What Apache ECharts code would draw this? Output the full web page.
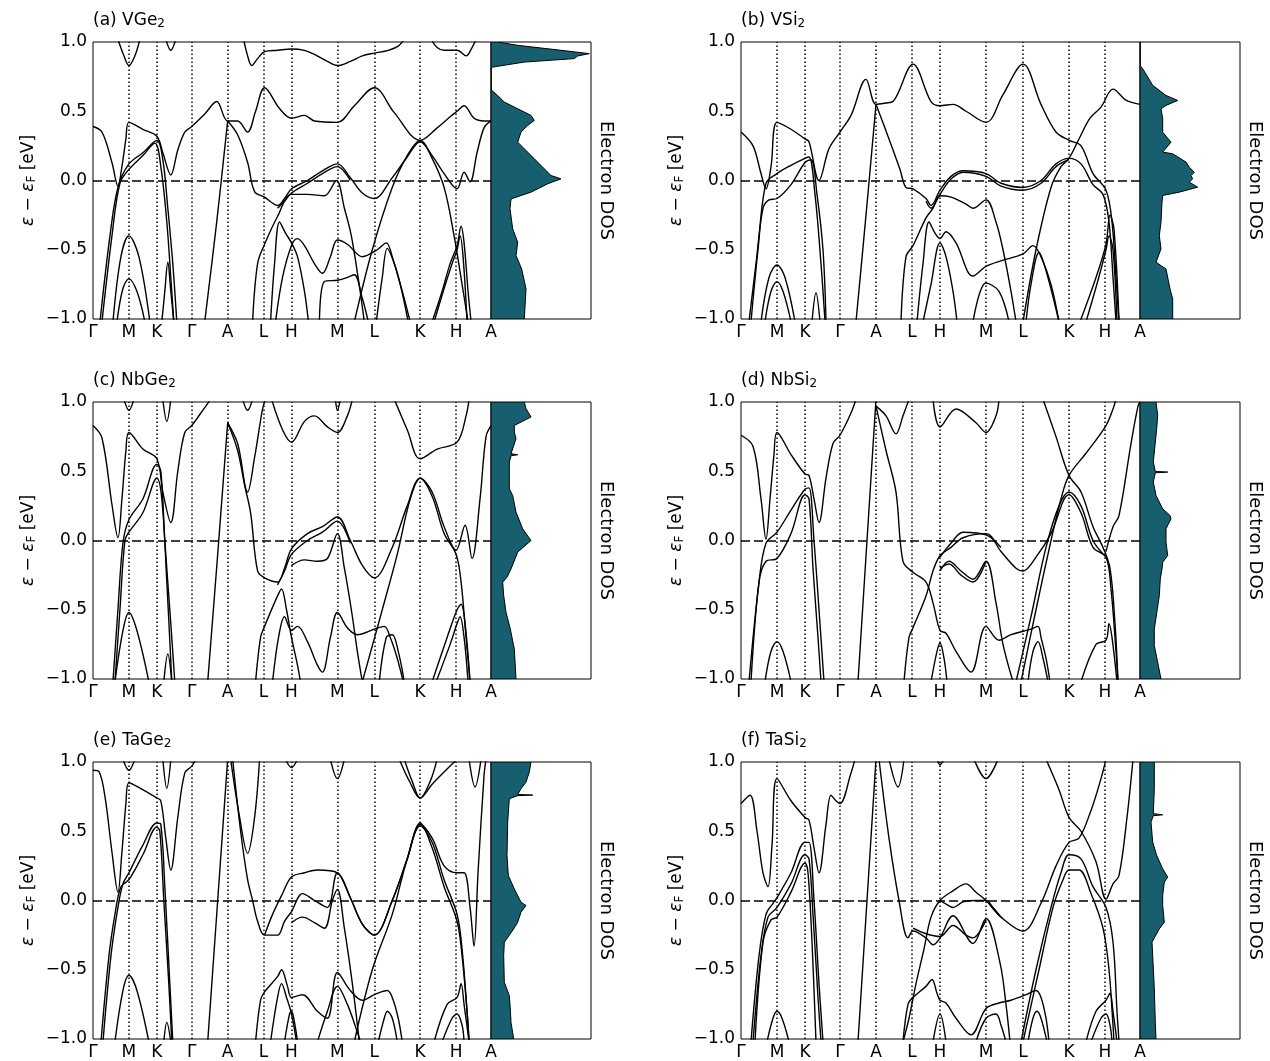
<!DOCTYPE html>
<html>
<head>
<meta charset="utf-8">
<script src="https://cdn.jsdelivr.net/npm/echarts@6/dist/echarts.min.js"></script>
<style>
  html, body { margin: 0; padding: 0; background: #fff; }
  #chart { width: 1270px; height: 1061px; }
</style>
</head>
<body>
<div id="chart"></div>
<script>
// High-symmetry path (distance along k-path) and its labels
const kPos = [0, 36, 64, 99, 135, 171, 199, 245, 282, 328, 364, 399];
const kLabels = ['Γ', 'M', 'K', 'Γ', 'A', 'L', 'H', 'M', 'L', 'K', 'H', 'A'];
const energyTicks = [-1.0, -0.5, 0.0, 0.5, 1.0];

// Band energies (k, ε − εF in eV), one polyline per band branch
const bandsVGe2 = [
  [[25,1.02],[31,0.9],[36,0.83],[42,0.9],[47,1.02]],
  [[73,1.02],[78,0.94],[83,1.02]],
  [[151,1.02],[155,0.9],[159,0.83],[165,0.88],[172,0.93],[185,0.94],[199,0.95],[212,0.94],[222,0.91],[235,0.86],[245,0.83],[258,0.86],[270,0.9],[282,0.92],[296,0.94],[306,0.97],[312,1.02]],
  [[339,1.02],[345,0.96],[352,0.94],[365,0.94],[374,0.9],[380,0.96],[384,1.02]],
  [[0,0.39],[9,0.35],[19,0.13],[25,-0.04],[29,0.1],[33,0.3],[36,0.42],[50,0.37],[64,0.32],[70,0.2],[78,0.04],[85,0.22],[92,0.35],[99,0.39],[112,0.48],[124,0.57],[135,0.43],[145,0.43],[155,0.35],[163,0.5],[172,0.67],[187,0.52],[199,0.45],[212,0.47],[222,0.43],[245,0.42],[262,0.54],[282,0.67],[302,0.49],[328,0.29],[345,0.38],[358,0.46],[365,0.5],[372,0.54],[382,0.45],[392,0.43],[399,0.43]],
  [[135,0.43],[145,0.33],[155,0.13],[162,-0.08],[172,-0.12],[185,-0.18],[192,-0.13],[199,-0.06],[215,0.0],[230,0.07],[245,0.12],[258,0.02],[270,-0.09],[282,-0.13],[300,0.02],[315,0.17],[328,0.28],[340,0.18],[352,0.05],[365,-0.06],[372,0.06],[378,-0.01],[385,0.2],[392,0.38],[399,0.43]],
  [[185,-0.2],[192,-0.15],[199,-0.09],[215,-0.02],[230,0.05],[245,0.1],[258,0.0]],
  [[7,-1.02],[17,-0.4],[25,-0.05],[36,0.12],[50,0.2],[64,0.29],[70,0.15],[75,-0.2],[80,-0.6],[84,-1.02]],
  [[9,-1.02],[19,-0.4],[27,-0.02],[36,0.08],[50,0.18],[62,0.27],[68,0.1],[74,-0.3],[78,-0.7],[81,-1.02]],
  [[20,-1.02],[28,-0.55],[36,-0.4],[46,-0.55],[57,-1.02]],
  [[24,-1.02],[30,-0.78],[36,-0.71],[44,-0.8],[52,-1.02]],
  [[69,-1.02],[72,-0.8],[75,-0.59],[78,-0.8],[81,-1.02]],
  [[112,-1.02],[124,-0.3],[135,0.43]],
  [[160,-1.02],[165,-0.6],[172,-0.46],[185,-0.26],[199,-0.1],[215,-0.1],[232,-0.11],[244,0.0],[252,-0.2],[259,-0.4],[267,-0.76],[272,-1.02]],
  [[178,-1.02],[182,-0.6],[187,-0.3],[193,-0.38],[199,-0.45],[205,-0.55],[212,-0.8],[216,-1.02]],
  [[183,-1.02],[190,-0.7],[199,-0.47],[205,-0.42],[212,-0.47],[222,-0.6],[230,-0.67],[238,-0.55],[245,-0.43],[255,-0.46],[270,-0.55],[285,-0.5],[294,-0.45],[300,-0.55],[308,-0.75],[316,-1.02]],
  [[227,-1.02],[232,-0.73],[245,-0.72],[255,-0.7],[262,-0.68],[270,-0.85],[276,-1.02]],
  [[284,-1.02],[290,-0.7],[295,-0.49],[302,-0.6],[310,-0.8],[318,-1.02]],
  [[340,-1.02],[350,-0.8],[358,-0.6],[365,-0.47],[369,-0.33],[372,-0.45],[376,-0.8],[379,-1.02]],
  [[342,-1.02],[352,-0.78],[360,-0.6],[365,-0.5],[368,-0.4],[371,-0.55],[375,-1.02]],
  [[262,-1.02],[280,-0.5],[300,-0.05],[315,0.18],[328,0.29],[340,0.16],[352,-0.05],[362,-0.4],[370,-0.75],[376,-1.02]]
];

const bandsVSi2 = [
  [[0,0.35],[12,0.25],[20,0.05],[25,-0.06],[30,0.1],[36,0.42],[50,0.37],[64,0.3],[68,0.28],[78,0.0],[88,0.23],[99,0.35],[110,0.47],[125,0.73],[135,0.55],[145,0.56],[152,0.57],[172,0.84],[190,0.57],[199,0.54],[212,0.55],[225,0.5],[245,0.42],[262,0.62],[282,0.84],[300,0.55],[315,0.35],[328,0.29],[340,0.25],[352,0.05],[365,-0.07],[371,-0.3],[375,-0.7],[378,-1.02]],
  [[135,0.55],[149,0.28],[159,0.08],[165,-0.05],[172,-0.06],[185,-0.13],[190,-0.18],[199,-0.07],[210,0.03],[222,0.07],[245,0.05],[260,-0.02],[282,-0.05],[300,0.0],[315,0.12],[328,0.16],[340,0.12],[352,-0.03],[362,-0.1],[368,-0.3],[372,-0.7],[375,-1.02]],
  [[185,-0.15],[190,-0.2],[199,-0.1],[210,0.01],[222,0.06],[245,0.03],[260,-0.04],[282,-0.07],[300,-0.02],[315,0.1],[328,0.15]],
  [[282,-1.02],[295,-0.5],[310,-0.05],[320,0.1],[328,0.16],[338,0.3],[349,0.45],[360,0.53],[372,0.66],[385,0.58],[399,0.55]],
  [[8,-1.02],[15,-0.6],[22,-0.2],[28,-0.14],[36,-0.13],[50,-0.03],[64,0.13],[70,0.15],[76,-0.1],[82,-0.5],[85,-1.02]],
  [[10,-1.02],[17,-0.5],[25,-0.02],[36,0.05],[50,0.11],[64,0.16],[68,0.17],[74,-0.1],[80,-0.6],[84,-1.02]],
  [[20,-1.02],[28,-0.7],[36,-0.61],[44,-0.7],[54,-1.02]],
  [[24,-1.02],[30,-0.8],[36,-0.73],[42,-0.8],[50,-1.02]],
  [[71,-1.02],[75,-0.81],[79,-1.02]],
  [[115,-1.02],[125,-0.25],[135,0.55]],
  [[160,-1.02],[165,-0.55],[172,-0.47],[185,-0.27],[192,-0.2],[199,-0.11],[210,-0.12],[225,-0.17],[232,-0.2],[245,-0.14],[255,-0.3],[262,-0.5],[270,-0.8],[275,-1.02]],
  [[176,-1.02],[182,-0.6],[188,-0.3],[194,-0.38],[199,-0.42],[205,-0.37],[215,-0.45],[232,-0.69],[245,-0.62],[260,-0.58],[282,-0.53],[292,-0.47],[300,-0.55],[310,-0.75],[318,-1.02]],
  [[232,-1.02],[245,-0.74],[258,-0.8],[268,-1.02]],
  [[285,-1.02],[290,-0.75],[298,-0.52],[305,-0.65],[318,-1.02]],
  [[339,-1.02],[355,-0.7],[365,-0.46],[369,-0.25],[373,-0.35],[378,-1.02]],
  [[345,-1.02],[357,-0.72],[365,-0.5],[368,-0.4],[372,-0.5],[376,-1.02]],
  [[182,-1.02],[190,-0.75],[199,-0.45],[205,-0.55],[212,-0.8],[216,-1.02]]
];

const bandsNbGe2 = [
  [[0,0.83],[9,0.74],[19,0.26],[25,0.02],[29,0.3],[33,0.65],[36,0.78],[50,0.66],[64,0.59],[70,0.35],[78,0.13],[85,0.5],[92,0.78],[99,0.83],[112,0.96],[118,1.02]],
  [[135,0.85],[145,0.65],[152,0.4],[158,0.2],[165,-0.22],[172,-0.27],[185,-0.3],[192,-0.2],[199,-0.06],[215,0.05],[230,0.1],[245,0.17],[258,0.0],[270,-0.18],[282,-0.27],[300,-0.05],[315,0.25],[328,0.45],[340,0.35],[352,0.1],[364,-0.07],[373,0.11],[380,-0.13],[388,0.3],[394,0.75],[399,0.83]],
  [[185,-0.32],[192,-0.22],[199,-0.1],[215,0.0],[230,0.06],[245,0.14],[258,-0.02]],
  [[199,-0.18],[212,-0.14],[225,-0.15],[235,-0.13],[245,0.05],[252,-0.2],[259,-0.5],[265,-0.8],[270,-1.02]],
  [[302,1.02],[315,0.8],[328,0.59],[345,0.66],[365,0.71],[374,0.9],[377,1.02]],
  [[179,1.02],[190,0.8],[199,0.71],[212,0.86],[222,0.9],[235,0.82],[245,0.78],[255,0.9],[260,1.02]],
  [[243,1.02],[245,0.94],[248,1.02]],
  [[135,0.85],[145,0.7],[155,0.35],[162,0.6],[170,0.95],[173,1.02]],
  [[150,1.02],[155,0.94],[160,1.02]],
  [[31,1.02],[36,0.94],[41,1.02]],
  [[70,1.02],[74,0.86],[78,1.02]],
  [[270,-1.02],[290,-0.5],[305,-0.1],[318,0.3],[328,0.45],[340,0.32],[352,0.05],[364,-0.1],[369,-0.3],[374,-0.7],[378,-1.02]],
  [[20,-1.02],[25,-0.5],[30,-0.02],[36,0.15],[50,0.3],[64,0.55],[68,0.5],[72,0.0],[78,-0.6],[82,-1.02]],
  [[22,-1.02],[27,-0.5],[32,0.0],[36,0.06],[50,0.2],[64,0.45],[69,0.3],[74,-0.3],[79,-1.02]],
  [[22,-1.02],[30,-0.65],[36,-0.52],[44,-0.65],[56,-1.02]],
  [[71,-1.02],[75,-0.82],[79,-1.02]],
  [[115,-1.02],[125,-0.1],[135,0.85]],
  [[163,-1.02],[168,-0.7],[172,-0.62],[185,-0.4],[189,-0.35],[194,-0.5],[199,-0.7],[205,-0.9],[208,-1.02]],
  [[180,-1.02],[186,-0.7],[192,-0.55],[199,-0.65],[205,-0.62],[215,-0.73],[225,-0.9],[230,-0.95],[238,-0.7],[245,-0.52],[255,-0.63],[265,-0.68],[282,-0.64],[292,-0.62],[298,-0.7],[305,-0.85],[311,-1.02]],
  [[287,-1.02],[294,-0.7],[300,-0.68],[306,-0.8],[312,-1.02]],
  [[340,-1.02],[355,-0.7],[365,-0.5],[369,-0.46],[373,-0.6],[378,-1.02]],
  [[344,-1.02],[358,-0.75],[365,-0.6],[368,-0.55],[372,-0.7],[376,-1.02]]
];

const bandsNbSi2 = [
  [[0,0.76],[12,0.68],[20,0.3],[25,0.01],[29,0.3],[33,0.62],[36,0.78],[50,0.62],[64,0.48],[68,0.47],[73,0.3],[78,0.13],[85,0.45],[92,0.7],[99,0.76],[110,0.92],[115,1.02]],
  [[8,-1.02],[18,-0.3],[25,-0.02],[36,0.06],[50,0.22],[64,0.37],[68,0.38],[73,0.0],[78,-0.5],[83,-1.02]],
  [[10,-1.02],[18,-0.3],[25,-0.15],[36,-0.13],[50,0.05],[64,0.33],[68,0.3],[72,-0.2],[77,-0.7],[80,-1.02]],
  [[24,-1.02],[30,-0.8],[36,-0.73],[42,-0.8],[50,-1.02]],
  [[117,-1.02],[126,0.0],[135,1.02]],
  [[135,0.97],[145,0.9],[155,0.77],[162,0.9],[168,1.02]],
  [[135,0.97],[145,0.65],[155,0.35],[162,-0.15],[172,-0.23],[185,-0.3],[192,-0.45],[199,-0.65],[205,-0.67],[215,-0.8],[230,-0.95],[245,-0.62],[258,-0.72],[270,-0.68],[290,-0.64],[297,-0.62],[300,-0.7],[305,-0.85],[309,-1.02]],
  [[163,-1.02],[168,-0.7],[172,-0.63],[185,-0.4],[192,-0.22],[199,-0.11],[210,-0.05],[222,0.02],[245,0.05],[260,-0.08],[275,-0.2],[282,-0.22],[295,-0.12],[310,0.05],[328,0.33],[340,0.2],[352,-0.05],[365,-0.12],[370,-0.35],[375,-0.8],[377,-1.02]],
  [[199,-0.12],[210,-0.02],[222,0.06],[245,0.04],[260,-0.05]],
  [[199,-0.22],[208,-0.15],[220,-0.22],[232,-0.28],[245,-0.15],[255,-0.45],[262,-0.75],[272,-1.02]],
  [[199,-0.2],[208,-0.17],[220,-0.25],[232,-0.3],[245,-0.15]],
  [[302,1.02],[315,0.75],[328,0.47],[340,0.35],[352,0.1],[362,-0.05],[369,-0.2],[374,-0.6],[377,-1.02]],
  [[280,-1.02],[295,-0.5],[310,0.0],[320,0.3],[328,0.47],[345,0.63],[365,0.83],[372,0.95],[375,1.02]],
  [[275,-1.02],[290,-0.55],[305,-0.05],[318,0.25],[328,0.35],[340,0.25],[352,0.0],[365,-0.12]],
  [[192,1.02],[199,0.82],[215,0.95],[235,0.85],[245,0.78],[255,0.9],[258,1.02]],
  [[365,-0.08],[372,0.1],[378,0.18],[390,0.7],[397,0.97],[399,1.0]],
  [[287,-1.02],[292,-0.8],[297,-0.73],[302,-0.85],[307,-1.02]],
  [[340,-1.02],[355,-0.75],[365,-0.72],[368,-0.6],[371,-0.7],[376,-1.02]],
  [[190,-1.02],[196,-0.8],[199,-0.74],[203,-0.85],[206,-1.02]]
];

const bandsTaGe2 = [
  [[0,0.94],[6,0.93],[12,0.75],[19,0.35],[25,0.06],[29,0.35],[33,0.7],[36,0.85],[45,0.82],[64,0.74],[68,0.72],[73,0.45],[78,0.22],[85,0.6],[92,0.92],[99,0.97],[103,1.02]],
  [[10,-1.02],[18,-0.4],[25,-0.05],[30,0.12],[36,0.2],[50,0.4],[64,0.56],[68,0.55],[72,0.1],[77,-0.6],[80,-1.02]],
  [[8,-1.02],[16,-0.4],[22,-0.1],[28,0.1],[36,0.15],[50,0.33],[64,0.53],[67,0.5],[71,0.0],[76,-0.6],[79,-1.02]],
  [[30,1.02],[36,0.94],[42,1.02]],
  [[70,1.02],[74,0.81],[78,1.02]],
  [[22,-1.02],[30,-0.65],[36,-0.54],[44,-0.65],[56,-1.02]],
  [[71,-1.02],[74,-0.88],[78,-1.02]],
  [[115,-1.02],[125,0.0],[135,1.02]],
  [[138,1.02],[147,0.6],[155,0.34],[162,0.6],[167,1.02]],
  [[140,1.02],[148,0.5],[155,0.15],[160,0.0],[165,-0.15],[172,-0.25],[185,-0.25],[192,-0.15],[199,-0.08],[210,0.05],[222,0.0],[235,-0.05],[245,0.2],[258,0.02],[270,-0.17],[282,-0.25],[300,0.0],[315,0.3],[328,0.55],[340,0.45],[352,0.25],[365,0.2],[372,0.2],[378,-0.05],[382,-0.33],[386,0.2],[392,0.9],[394,1.02]],
  [[172,-0.25],[180,-0.1],[190,0.05],[199,0.17],[212,0.2],[225,0.22],[245,0.2],[258,0.02],[270,-0.17],[282,-0.25],[300,0.0],[315,0.3],[328,0.56],[340,0.38],[352,0.1],[365,-0.15],[370,-0.4],[375,-0.8],[377,-1.02]],
  [[199,-0.16],[210,-0.12],[222,-0.16],[232,-0.2],[240,0.0],[245,0.08],[252,-0.2],[260,-0.6],[267,-1.02]],
  [[307,1.02],[318,0.85],[328,0.74],[340,0.84],[355,0.95],[365,1.02]],
  [[312,1.02],[320,0.86],[328,0.74],[338,0.86],[345,1.02]],
  [[238,1.02],[245,0.88],[252,1.02]],
  [[262,-1.02],[280,-0.5],[300,-0.1],[315,0.3],[328,0.54],[340,0.42],[352,0.15],[365,-0.1],[370,-0.35],[375,-0.8],[377,-1.02]],
  [[163,-1.02],[168,-0.72],[172,-0.66],[185,-0.55],[189,-0.5],[195,-0.62],[199,-0.7],[210,-0.68],[225,-0.8],[235,-0.85],[245,-0.52],[258,-0.65],[270,-0.72],[282,-0.68],[295,-0.65],[300,-0.7],[306,-0.85],[310,-1.02]],
  [[178,-1.02],[185,-0.7],[189,-0.6],[194,-0.7],[199,-0.82],[204,-1.02]],
  [[225,-1.02],[235,-0.8],[245,-0.62],[255,-0.75],[265,-0.95],[268,-1.02]],
  [[286,-1.02],[292,-0.85],[295,-0.8],[300,-0.85],[305,-1.02]],
  [[342,-1.02],[355,-0.75],[365,-0.7],[369,-0.6],[372,-0.75],[377,-1.02]],
  [[350,-1.02],[360,-0.85],[365,-0.82],[370,-0.9],[372,-1.02]],
  [[192,-1.02],[197,-0.82],[199,-0.8],[202,-0.88],[205,-1.02]],
  [[193,1.02],[199,0.96],[205,1.02]],
  [[377,1.02],[383,0.82],[389,1.02]]
];

const bandsTaSi2 = [
  [[0,0.7],[9,0.76],[16,0.5],[22,0.2],[27,0.1],[31,0.4],[36,0.88],[50,0.72],[64,0.6],[68,0.58],[73,0.38],[78,0.2],[85,0.55],[90,0.76],[95,0.72],[99,0.7],[110,0.92],[114,1.02]],
  [[10,-1.02],[18,-0.4],[25,-0.1],[32,-0.02],[36,0.02],[50,0.2],[64,0.42],[68,0.42],[73,0.0],[78,-0.6],[82,-1.02]],
  [[12,-1.02],[20,-0.4],[27,-0.12],[36,-0.05],[50,0.12],[64,0.33],[68,0.3],[72,-0.1],[77,-0.7],[80,-1.02]],
  [[14,-1.02],[22,-0.3],[30,-0.14],[36,-0.12],[50,0.06],[64,0.27],[67,0.2],[71,-0.3],[75,-1.02]],
  [[26,-1.02],[32,-0.85],[36,-0.8],[41,-0.85],[48,-1.02]],
  [[117,-1.02],[126,0.0],[135,1.02]],
  [[148,1.02],[157,0.82],[163,1.02]],
  [[138,1.02],[148,0.45],[158,0.0],[167,-0.27],[172,-0.22],[185,-0.27],[192,-0.32],[199,-0.27],[212,-0.11],[232,-0.31],[245,-0.13],[259,-0.45],[265,-0.75],[269,-1.02]],
  [[172,-0.2],[185,-0.24],[199,-0.26],[212,-0.18],[225,-0.25],[232,-0.27],[245,-0.14]],
  [[162,-1.02],[167,-0.75],[172,-0.7],[185,-0.62],[191,-0.57],[196,-0.67],[199,-0.72],[205,-0.74],[215,-0.85],[230,-0.97],[245,-0.78],[258,-0.74],[270,-0.72],[285,-0.68],[295,-0.65],[300,-0.7],[305,-0.85],[308,-1.02]],
  [[192,-1.02],[199,-0.82],[205,-1.02]],
  [[162,-1.02],[168,-0.85],[175,-0.6],[183,-0.35],[190,-0.12],[199,0.0],[212,0.07],[225,0.12],[235,0.06],[245,0.0],[260,-0.12],[282,-0.22],[300,-0.02],[315,0.25],[328,0.42],[338,0.45],[350,0.65],[360,0.88],[365,1.02]],
  [[199,0.0],[206,-0.03],[212,-0.05],[222,-0.01],[235,0.0],[245,0.0],[252,-0.05],[260,-0.12]],
  [[305,1.02],[318,0.8],[328,0.6],[340,0.5],[355,0.28],[365,0.01],[372,0.12],[378,0.18],[386,0.6],[392,1.02]],
  [[280,-1.02],[295,-0.5],[310,-0.05],[320,0.2],[328,0.33],[340,0.3],[352,0.1],[365,-0.05],[372,-0.3],[376,-0.8],[378,-1.02]],
  [[282,-1.02],[298,-0.5],[312,-0.05],[322,0.15],[328,0.22],[338,0.22],[350,0.05],[362,-0.2],[368,-0.5],[372,-0.9],[373,-1.02]],
  [[235,-1.02],[245,-0.85],[255,-0.82],[260,-0.9],[265,-1.02]],
  [[287,-1.02],[292,-0.85],[296,-0.8],[300,-0.85],[306,-1.02]],
  [[345,-1.02],[355,-0.8],[365,-0.72],[369,-0.67],[372,-0.8],[376,-1.02]],
  [[350,-1.02],[360,-0.85],[365,-0.82],[369,-0.9],[371,-1.02]],
  [[233,1.02],[245,0.88],[257,1.02]],
  [[196,1.02],[199,0.98],[203,1.02]]
];

// Electron DOS profiles: [DOS (arb. units), ε − εF in eV]
const dosVGe2 = [[0.67,1.0],[2.67,0.976],[7.0,0.94],[9.83,0.916],[8.67,0.899],[8.33,0.88],[3.33,0.855],[0.17,0.819],[0,0.807],[0,0.663],[0.07,0.651],[0.67,0.614],[1.33,0.566],[2.33,0.53],[4.0,0.47],[4.33,0.434],[3.67,0.398],[3.0,0.349],[2.67,0.277],[3.33,0.229],[4.33,0.157],[5.33,0.084],[6.0,0.036],[7.0,0.012],[5.67,-0.024],[4.0,-0.084],[2.0,-0.133],[1.9,-0.205],[2.17,-0.349],[2.67,-0.446],[2.5,-0.542],[3.07,-0.639],[3.5,-0.783],[3.33,-1.0]];
const dosVSi2 = [[0,0.831],[0.27,0.807],[1.27,0.687],[2.6,0.614],[3.77,0.578],[2.6,0.542],[2.1,0.518],[2.27,0.446],[2.27,0.349],[3.1,0.277],[2.27,0.205],[3.27,0.193],[4.6,0.133],[4.93,0.096],[5.43,0.06],[5.1,0.036],[5.27,0.012],[4.93,-0.012],[5.77,-0.048],[3.93,-0.084],[2.27,-0.108],[2.2,-0.157],[2.1,-0.301],[1.93,-0.398],[2.1,-0.494],[1.6,-0.59],[2.6,-0.639],[3.0,-0.783],[3.27,-0.855],[3.27,-1.0]];
const dosNbGe2 = [[3.33,1.0],[3.5,0.952],[4.0,0.892],[3.0,0.855],[2.33,0.831],[2.33,0.783],[2.5,0.735],[2.0,0.627],[2.67,0.619],[2.0,0.612],[1.83,0.566],[1.83,0.373],[2.17,0.325],[2.5,0.205],[3.17,0.084],[4.0,0.0],[2.67,-0.084],[2.0,-0.205],[1.6,-0.265],[1.17,-0.301],[1.27,-0.398],[1.5,-0.518],[1.93,-0.639],[2.33,-0.783],[2.5,-1.0]];
const dosNbSi2 = [[1.6,1.0],[1.77,0.904],[1.67,0.807],[1.33,0.566],[1.53,0.499],[2.77,0.494],[1.53,0.489],[1.33,0.422],[1.6,0.325],[2.27,0.229],[3.0,0.181],[3.1,0.157],[2.6,0.084],[2.6,-0.012],[2.77,-0.108],[2.27,-0.157],[2.2,-0.205],[2.03,-0.277],[1.93,-0.398],[1.43,-0.639],[1.43,-0.759],[1.77,-0.88],[2.1,-1.0]];
const dosTaGe2 = [[4.0,1.0],[3.83,0.928],[3.5,0.855],[3.0,0.807],[2.67,0.766],[4.17,0.761],[2.67,0.757],[1.83,0.735],[1.67,0.566],[1.6,0.325],[1.73,0.181],[2.33,0.084],[3.0,-0.012],[3.5,-0.036],[3.0,-0.084],[2.67,-0.157],[2.27,-0.205],[1.33,-0.301],[1.27,-0.398],[1.33,-0.59],[1.83,-0.687],[1.93,-0.783],[2.0,-0.88],[2.27,-1.0]];
const dosTaSi2 = [[1.43,1.0],[1.43,0.807],[1.33,0.627],[2.27,0.619],[1.33,0.612],[1.1,0.566],[1.27,0.422],[1.67,0.325],[2.27,0.229],[2.77,0.169],[2.43,0.133],[2.27,0.036],[2.27,-0.036],[2.43,-0.157],[1.93,-0.205],[1.2,-0.301],[1.27,-0.398],[1.43,-0.639],[1.53,-0.88],[1.6,-1.0]];

const panelTags = ['(a)', '(b)', '(c)', '(d)', '(e)', '(f)'];
const compoundBase = ['VGe', 'VSi', 'NbGe', 'NbSi', 'TaGe', 'TaSi'];
const compoundSub = ['2', '2', '2', '2', '2', '2'];
const panelBands = [bandsVGe2, bandsVSi2, bandsNbGe2, bandsNbSi2, bandsTaGe2, bandsTaSi2];
const panelDos = [dosVGe2, dosVSi2, dosNbGe2, dosNbSi2, dosTaGe2, dosTaSi2];

// Layout of the 3x2 panel array
const colLeft = [93, 741];
const bandWidth = [398, 399];
const dosWidth = 100;
const rowTop = [42, 402, 762];
const plotHeight = 277;

const FONT = 'DejaVu Sans';
const DOS_FILL = '#175f6f';

const grids = [], xAxes = [], yAxes = [], series = [], titles = [];

const fmtTick = v => (v < 0 ? '\u2212' : '') + Math.abs(v).toFixed(1);

panelBands.forEach((bands, i) => {
  const col = i % 2, row = Math.floor(i / 2);
  const left = colLeft[col], top = rowTop[row];
  const gBand = grids.length;
  grids.push({ left: left, top: top, width: bandWidth[col], height: plotHeight,
               show: true, borderColor: '#000', borderWidth: 1, backgroundColor: 'transparent' });
  const gDos = grids.length;
  grids.push({ left: left + bandWidth[col], top: top, width: dosWidth, height: plotHeight,
               show: true, borderColor: '#000', borderWidth: 1, backgroundColor: 'transparent' });

  // band-structure axes
  xAxes.push({
    gridIndex: gBand, type: 'value', min: 0, max: 399,
    axisLine: { show: false }, axisTick: { show: false }, splitLine: { show: false },
    axisLabel: {
      customValues: kPos,
      formatter: v => kLabels[kPos.indexOf(v)],
      fontSize: 17, color: '#000', fontFamily: FONT, margin: 5
    }
  });
  yAxes.push({
    gridIndex: gBand, type: 'value', min: -1, max: 1, interval: 0.5,
    axisLine: { show: false }, axisTick: { show: false }, splitLine: { show: false },
    axisLabel: { formatter: fmtTick, fontSize: 17, color: '#000', fontFamily: FONT, margin: 6 },
    name: '{e|ε} \u2212 {e|ε}{s|F} [eV]',
    nameLocation: 'middle', nameRotate: 90, nameGap: 55,
    nameTextStyle: {
      fontSize: 17, color: '#000', fontFamily: FONT,
      rich: {
        e: { fontSize: 17, fontStyle: 'italic', fontFamily: FONT, color: '#000' },
        s: { fontSize: 12, fontFamily: FONT, color: '#000', verticalAlign: 'bottom', padding: [7, 0, 0, 0] }
      }
    }
  });
  // DOS axes
  xAxes.push({
    gridIndex: gDos, type: 'value', min: 0, max: 10,
    axisLine: { show: false }, axisTick: { show: false }, splitLine: { show: false },
    axisLabel: { show: false }
  });
  yAxes.push({
    gridIndex: gDos, type: 'value', min: -1, max: 1, position: 'right',
    axisLine: { show: false }, axisTick: { show: false }, splitLine: { show: false },
    axisLabel: { show: false },
    name: 'Electron DOS', nameLocation: 'middle', nameRotate: -90, nameGap: 6,
    nameTextStyle: { fontSize: 18, color: '#000', fontFamily: FONT }
  });

  // bands
  bands.forEach(b => {
    series.push({
      type: 'line', xAxisIndex: gBand, yAxisIndex: gBand, data: b,
      smooth: 0.35, showSymbol: false, silent: true, clip: true,
      lineStyle: { color: '#000', width: 1.4 }
    });
  });

  // dotted high-symmetry lines and dashed Fermi level
  series.push({
    type: 'line', xAxisIndex: gBand, yAxisIndex: gBand, data: [], silent: true,
    markLine: {
      symbol: 'none', silent: true, label: { show: false }, animation: false,
      lineStyle: { color: '#000', width: 1.5 },
      data: kPos.slice(1, -1).map(k => ({ xAxis: k, lineStyle: { type: [1.5, 2.5], width: 1.5, color: '#000' } }))
        .concat([{ yAxis: 0, lineStyle: { type: [9, 4], width: 1.5, color: '#000' } }])
    }
  });

  // DOS filled profile
  const dos = panelDos[i];
  series.push({
    type: 'custom', xAxisIndex: gDos, yAxisIndex: gDos, data: [[0, 0]], silent: true, clip: true,
    renderItem: (params, api) => {
      const pts = [[0, 1]].concat(dos).concat([[0, -1]]).map(p => api.coord(p));
      return { type: 'polygon', shape: { points: pts },
               style: { fill: DOS_FILL, stroke: '#000', lineWidth: 1 } };
    }
  });

  titles.push({
    text: panelTags[i] + ' ' + compoundBase[i] + '{s|' + compoundSub[i] + '}',
    left: left, top: top - 31, padding: 0,
    textStyle: {
      fontSize: 17, fontWeight: 'normal', color: '#000', fontFamily: FONT,
      rich: { s: { fontSize: 12, fontFamily: FONT, color: '#000', verticalAlign: 'bottom', padding: [7, 0, 0, 0] } }
    }
  });
});

const chart = echarts.init(document.getElementById('chart'), null, { renderer: 'canvas' });
chart.setOption({
  animation: false,
  backgroundColor: '#fff',
  title: titles,
  grid: grids,
  xAxis: xAxes,
  yAxis: yAxes,
  series: series
});
</script>
</body>
</html>
